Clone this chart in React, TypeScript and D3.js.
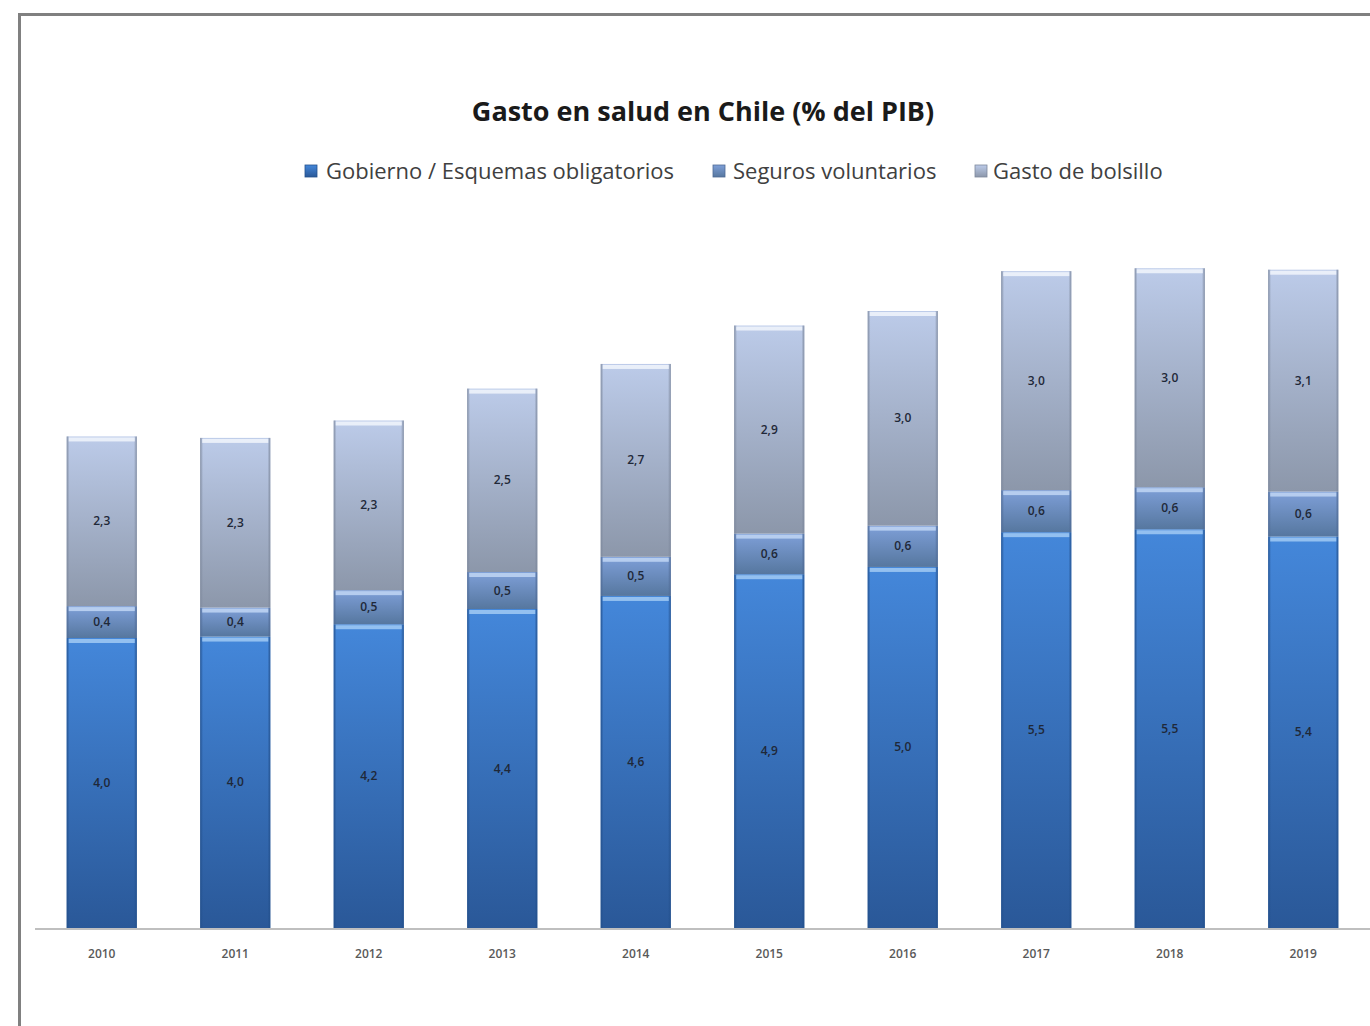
import React from "react";
import * as d3 from "d3";

const years = ["2010", "2011", "2012", "2013", "2014", "2015", "2016", "2017", "2018", "2019"];
const gobierno = [4.0, 4.02, 4.19, 4.4, 4.58, 4.88, 4.98, 5.46, 5.5, 5.4];
const seguros = [0.44, 0.4, 0.47, 0.51, 0.54, 0.56, 0.57, 0.58, 0.58, 0.62];
const bolsillo = [2.34, 2.34, 2.34, 2.53, 2.66, 2.87, 2.96, 3.02, 3.02, 3.06];
const seriesNames = ["Gobierno / Esquemas obligatorios", "Seguros voluntarios", "Gasto de bolsillo"];

const W = 1370, H = 1026;
const FONT = "'Open Sans', 'Liberation Sans', sans-serif";

const grads = [
  { id: "g0", top: "#4487da", bot: "#2a5898", hi: "#9cc6f2", edge: "#23508c" },
  { id: "g1", top: "#7e9fd8", bot: "#56779f", hi: "#bcd3f2", edge: "#4f6a94" },
  { id: "g2", top: "#bccbe9", bot: "#8c97aa", hi: "#eef3fb", edge: "#7d889c" },
];

export default function App() {
  const baseY = 928;
  const x = d3.scaleBand<string>().domain(years).range([35, 1370]).paddingInner(0.475).paddingOuter(0.2375);
  const y = d3.scaleLinear().domain([0, 10]).range([baseY, baseY - 725]);
  const table = years.map((yr, i) => ({ year: yr, gob: gobierno[i], seg: seguros[i], bol: bolsillo[i] }));
  const stack = d3.stack<any>().keys(["gob", "seg", "bol"])(table);
  const fmt = (v: number) => d3.format(".1f")(v).replace(".", ",");
  const bw = x.bandwidth();

  const legendItems = [
    { sx: 305, tx: 326 },
    { sx: 713, tx: 733 },
    { sx: 975, tx: 993 },
  ];

  return (
    <svg width={W} height={H} style={{ position: "absolute", left: 0, top: 0, background: "#fff" }}>
      <defs>
        {grads.map((g) => (
          <linearGradient key={g.id} id={g.id} x1="0" y1="0" x2="0" y2="1">
            <stop offset="0%" stopColor={g.top} />
            <stop offset="100%" stopColor={g.bot} />
          </linearGradient>
        ))}
        {grads.map((g) => (
          <linearGradient key={g.id + "h"} id={g.id + "h"} x1="0" y1="0" x2="1" y2="0">
            <stop offset="0%" stopColor={g.edge} stopOpacity={0.9} />
            <stop offset="4%" stopColor={g.edge} stopOpacity={0} />
            <stop offset="96%" stopColor={g.edge} stopOpacity={0} />
            <stop offset="100%" stopColor={g.edge} stopOpacity={0.9} />
          </linearGradient>
        ))}
      </defs>
      <rect x={19.5} y={14.5} width={W} height={H} fill="#fff" stroke="#808080" strokeWidth={3} />
      <text x={703} y={121} textAnchor="middle" fontFamily={FONT} fontWeight="bold" fontSize={27} fill="#1a1a1a">
        Gasto en salud en Chile (% del PIB)
      </text>
      {seriesNames.map((n, i) => (
        <g key={n}>
          <rect x={legendItems[i].sx} y={165} width={12} height={12} fill={`url(#g${i})`} stroke={grads[i].edge} strokeWidth={0.8} />
          <text x={legendItems[i].tx} y={179} fontFamily={FONT} fontSize={22} fill="#404040">{n}</text>
        </g>
      ))}
      <line x1={35} x2={1370} y1={baseY + 1} y2={baseY + 1} stroke="#bfbfbf" strokeWidth={2} />
      {stack.map((s, si) => (
        <g key={si}>
          {s.map((d, i) => {
            const x0 = x(years[i])!;
            const yt = y(d[1]);
            const yb = y(d[0]);
            const h = yb - yt;
            const g = grads[si];
            return (
              <g key={i}>
                <rect x={x0} y={yt} width={bw} height={h} fill={`url(#${g.id})`} />
                <rect x={x0} y={yt} width={bw} height={h} fill={`url(#${g.id}h)`} />
                <rect x={x0 + 2} y={yt + 1} width={bw - 4} height={4} fill={g.hi} opacity={0.9} />
                <text x={x0 + bw / 2} y={(yt + yb) / 2 + 4} textAnchor="middle" fontFamily={FONT} fontSize={12} fontWeight={600} fill="#1f2838">
                  {fmt(si === 0 ? gobierno[i] : si === 1 ? seguros[i] : bolsillo[i])}
                </text>
              </g>
            );
          })}
        </g>
      ))}
      {years.map((yr) => (
        <text key={yr} x={x(yr)! + bw / 2} y={958} textAnchor="middle" fontFamily={FONT} fontSize={12} fontWeight={600} fill="#595959">{yr}</text>
      ))}
    </svg>
  );
}
